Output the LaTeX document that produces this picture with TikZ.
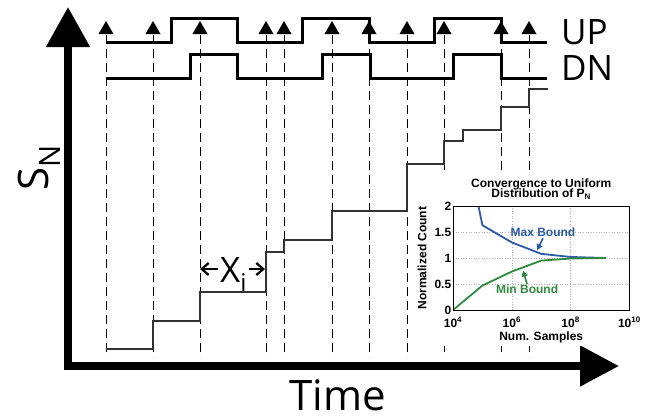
\documentclass[tikz,border=0pt]{standalone}
\usepackage{fontspec}
\setmainfont{Open Sans}
\newfontfamily\plotfont{Liberation Sans}
\usepackage{xcolor}
\usetikzlibrary{arrows.meta,positioning,calc}
\definecolor{maxblue}{HTML}{2B5BA8}
\definecolor{mingreen}{HTML}{2F8A3E}
\definecolor{stairgray}{HTML}{333333}

\begin{document}
\begin{tikzpicture}[
  x=1pt, y=-1pt,
  every node/.style={inner sep=1pt},
  biglabel/.style={font=\fontsize{35}{40}\selectfont},
  axislabel/.style={font=\fontsize{42}{46}\selectfont},
  plotlabel/.style={font=\plotfont\bfseries\fontsize{12}{13}\selectfont},
  clkline/.style={dash pattern=on 9pt off 5pt, line width=0.9pt},
  signal/.style={line width=3pt, line join=miter},
  stair/.style={line width=1.2pt, stairgray},
  axisline/.style={line width=8pt, line join=miter, {Triangle[length=40pt,width=42pt]}-{Triangle[length=39pt,width=39pt]}},
  xiarr/.style={line width=2.2pt, -{Straight Barb[length=7pt,width=12pt]}},
  gridline/.style={gray!60, dotted, line width=0.6pt},
  curve/.style={line width=1.8pt, line join=round},
  boundarr/.style={line width=1.6pt, -{Triangle[length=6pt,width=6pt]}}
]
\useasboundingbox (0,0) rectangle (655,416);

% clock edges
\foreach \x in {106,153,200,266,284,332,369,407,444,501,529}{
  \draw[clkline] (\x,35) -- (\x,357);
  \fill (\x-7.5,34) -- (\x,21) -- (\x+7.5,34) -- cycle;
}

% S_N staircase
\draw[stair] (106,349) -| (153,321) -| (200,292) -| (266,252) -| (284,240) -| (332,211)
  -| (407,164) -| (444,141) -| (463,130) -| (501,107) -| (529,89) -- (548,89);

% UP and DN pulses
\draw[signal] (106,42) -| (171,18) -| (237,42) -| (302,18) -| (369,42) -| (434,18) -| (501,42) -- (547,42);
\draw[signal] (106,78) -| (190,54) -| (237,78) -| (322,54) -| (370,78) -| (453,54) -| (501,78) -- (547,78);
\node[biglabel, anchor=base west] (up) at (560,44) {UP};
\node[biglabel, anchor=base west] (dn) at (560,80) {DN};

% axes
\coordinate (ytip) at (68,7);
\coordinate (origin) at (68,366);
\coordinate (xtip) at (619,366);
\draw[axisline] (ytip) -- (origin) -- (xtip);
\node[axislabel, anchor=base west] (time) at (288,410) {Time};
\node[axislabel, rotate=90, anchor=base west] (sn) at (48,192) {S\textsubscript{N}};

% interval X_i
\coordinate (xl) at (200,269);
\coordinate (xr) at (265,269);
\node[biglabel, anchor=base west, inner sep=2pt] (xi) at (218,282) {X\textsubscript{i}};
\draw[xiarr] (xi.west |- xl) -- (xl);
\draw[xiarr] (xi.east |- xr) -- (xr);

% inset plot
\fill[white] (413,170) rectangle (650,346);
\begin{scope}[shift={(453,310)}, x=29.4pt, y=52pt]
  \foreach \v in {0.5,1,1.5} \draw[gridline] (0,\v) -- (6,\v);
  \foreach \u in {2,4} \draw[gridline] (\u,0) -- (\u,2);
  \begin{scope}
    \clip (0,0) rectangle (6,2);
    \draw[curve, maxblue] (0.72,2.4) -- (1,1.63) -- (2,1.3) -- (3,1.08) -- (4,1.02) -- (5.2,1.0);
    \draw[curve, mingreen] (0,0) -- (1,0.47) -- (2,0.74) -- (3,0.95) -- (4,0.99) -- (5.2,1.0);
  \end{scope}
  \draw[line width=0.9pt] (0,0) rectangle (6,2);
  \foreach \v in {0,0.5,1,1.5,2} \node[plotlabel, anchor=east] at (-0.02,\v) {\v};
  \foreach \u/\e in {0/4,2/6,4/8,6/10} \node[plotlabel, anchor=base] at (\u,-0.33) {10\textsuperscript{\e}};
  \node[plotlabel, rotate=90] (ylab) at (-1.05,1) {Normalized Count};
  \node[plotlabel, anchor=base] (xlab) at (3,-0.58) {Num. Samples};
  \node[plotlabel, anchor=base] (title1) at (3,2.365) {Convergence to Uniform};
  \node[plotlabel, anchor=base] (title2) at (3,2.154) {Distribution of P\textsubscript{N}};
  \node[plotlabel, maxblue, anchor=base] (maxlab) at (3.06,1.404) {Max Bound};
  \node[plotlabel, mingreen, anchor=base] (minlab) at (2.52,0.308) {Min Bound};
  \coordinate (maxpt) at (2.86,1.15);
  \coordinate (minpt) at (2.38,0.76);
  \draw[boundarr, maxblue] (maxlab.south) -- (maxpt);
  \draw[boundarr, mingreen] (minlab.north) -- (minpt);
\end{scope}
\end{tikzpicture}
\end{document}
